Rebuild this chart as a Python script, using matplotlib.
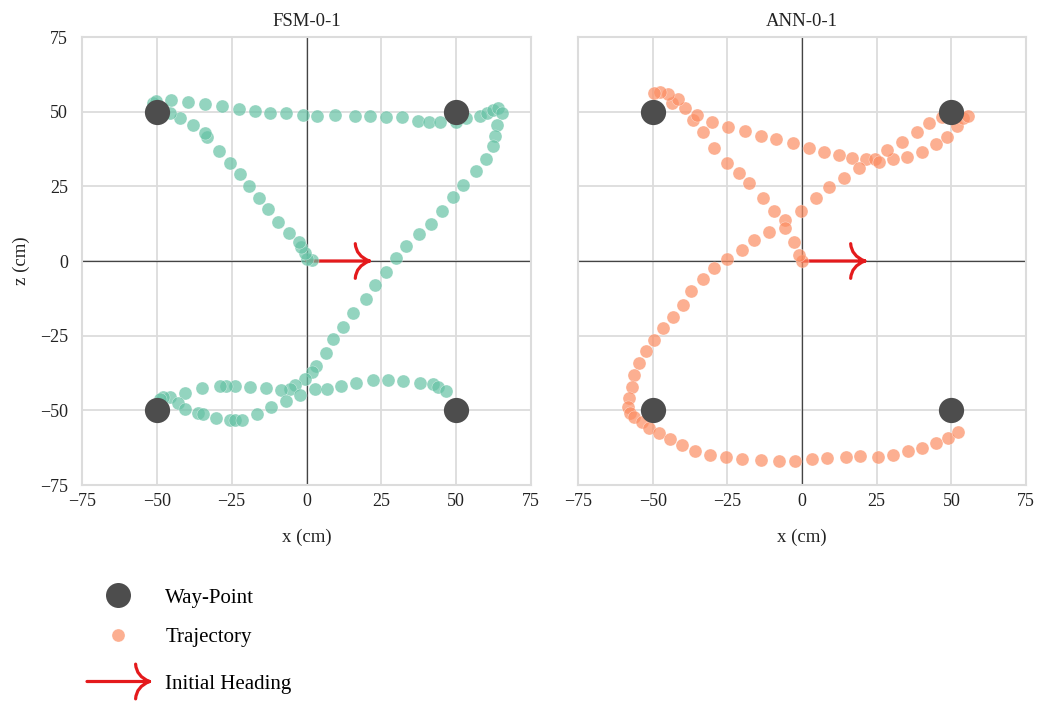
import matplotlib
matplotlib.use("Agg")
import matplotlib.pyplot as plt
from matplotlib.path import Path
from matplotlib.patches import PathPatch
from matplotlib.legend_handler import HandlerBase
from matplotlib.lines import Line2D

plt.rcParams['font.family'] = ['Liberation Serif', 'DejaVu Serif']
plt.rcParams['axes.unicode_minus'] = True

# way-points (cm)
wp_x = [-50, 50, -50, 50]
wp_z = [50, 50, -50, -50]

# FSM-0-1 trajectory (cm)
fsm_x = [1.7, 0.3, -0.6, -1.7, -2.5, -5.8, -9.5, -12.8, -15.9, -19.3, -22.3, -25.4,
         -29.2, -33.2, -34.0, -37.9, -42.4, -45.7, -51.3, -50.4, -45.2, -39.6, -34.0,
         -28.2, -22.6, -17.1, -12.3, -6.9, -1.1, 3.6, 9.5, 16.3, 21.2, 26.5, 31.8,
         37.3, 41.0, 44.6, 49.8, 53.2, 58.0, 60.2, 62.4, 64.1, 65.2, 63.5, 63.0, 62.4,
         60.0, 56.5, 52.4, 48.8, 45.4, 41.6, 37.6, 33.2, 29.9, 26.5, 22.9, 19.8, 15.6,
         12.3, 8.9, 6.4, 3.3, 1.9, -0.6, -3.9, -5.6, -8.4, -13.4, -19.0, -24.0, -26.8,
         -29.0, -34.8, -40.7, -45.7, -47.9, -49.1, -42.9, -40.7, -36.2, -34.6, -30.3,
         -25.6, -24.0, -21.5, -16.7, -12.0, -6.7, -2.2, 2.8, 6.7, 11.4, 16.7, 22.3,
         27.3, 32.3, 37.9, 42.4, 44.0, 46.5]
fsm_z = [0.3, 0.7, 2.6, 4.8, 6.5, 9.5, 13.2, 17.3, 21.2, 25.1, 29.0, 32.7,
         36.8, 41.6, 43.0, 45.5, 47.9, 49.4, 53.0, 53.6, 53.8, 53.1, 52.7,
         51.8, 50.9, 50.3, 49.7, 49.5, 48.9, 48.7, 48.9, 48.7, 48.5, 48.1, 48.1,
         46.8, 46.7, 46.6, 46.6, 48.0, 48.5, 49.6, 50.7, 51.1, 49.7, 45.5, 41.8, 38.6,
         34.1, 30.2, 25.6, 21.3, 16.8, 12.4, 8.9, 5.0, 0.9, -3.8, -8.0, -12.7, -17.5,
         -22.0, -26.2, -30.9, -35.1, -37.0, -39.6, -41.5, -42.9, -43.1, -42.4, -42.3, -41.8, -41.8,
         -42.0, -42.6, -44.3, -45.4, -45.7, -46.2, -47.4, -49.5, -50.9, -51.2, -52.4,
         -53.4, -53.4, -53.2, -51.3, -48.9, -47.0, -45.0, -42.9, -42.9, -41.8, -40.9, -39.8,
         -39.8, -40.1, -40.7, -41.1, -42.3, -43.5]

# ANN-0-1 trajectory (cm)
ann_x = [0.0, -1.0, -2.6, -5.7, -9.4, -12.9, -17.7, -21.1, -25.0, -29.5, -33.3,
         -36.4, -35.3, -39.2, -43.6, -41.4, -44.8, -47.5, -49.4,
         -30.2, -24.9, -19.1, -13.8, -8.7, -2.9, 2.3, 7.5, 12.4, 16.9, 21.3, 24.4,
         25.8, 30.6, 35.3, 40.1, 44.8, 48.4, 51.8, 54.0, 55.5,
         46.8, 42.5, 38.4, 33.4, 28.3, 19.2, 14.2, 9.0, 4.6, -0.3, -5.7, -11.0, -16.0,
         -20.2, -25.2, -29.5, -33.0, -37.3, -40.0, -43.3, -46.4, -49.4, -52.3, -54.5,
         -56.1, -57.0, -57.8, -58.1, -57.6, -56.1, -53.7, -51.2, -47.9, -44.2, -40.3,
         -35.8, -30.8, -25.4, -20.2, -13.8, -7.7, -2.3, 3.5, 8.5, 14.6, 19.4, 25.6,
         30.6, 35.4, 40.3, 44.8, 48.8, 52.1]
ann_z = [0.0, 2.0, 6.3, 13.7, 16.7, 21.2, 26.0, 29.4, 32.9, 37.7, 43.1,
         47.2, 48.9, 51.1, 52.8, 54.1, 55.9, 56.7, 56.1,
         46.4, 45.0, 43.6, 42.0, 40.8, 39.4, 37.7, 36.6, 35.5, 34.6, 34.3, 34.0,
         33.3, 34.0, 34.9, 36.6, 39.1, 41.6, 45.2, 47.8, 48.5,
         48.3, 46.3, 43.3, 39.7, 37.2, 31.2, 27.9, 24.9, 21.2, 16.7, 10.9, 9.8, 7.0,
         3.7, 0.7, -2.5, -6.0, -10.0, -14.7, -18.6, -22.5, -26.5, -30.1, -34.3,
         -38.2, -42.3, -46.0, -48.8, -50.8, -52.1, -53.8, -56.0, -57.7, -59.7, -61.6,
         -63.5, -65.0, -65.7, -66.3, -66.6, -67.0, -66.9, -66.4, -66.1, -65.5, -65.3, -65.5,
         -64.9, -63.6, -62.7, -60.8, -59.2, -57.1]

# initial heading arrow (cm)
head_start = (0, 0)
head_end = (21, 0)

ticks = [-75, -50, -25, 0, 25, 50, 75]

green = '#66c2a5'
orange = '#fc8d62'
wp_color = '#4d4d4d'
red = '#e41a1c'
grid_c = '#dcdcdc'
txt_c = '#222222'


def heading_path(x0, y0, x1, hl, hw):
    # shaft plus two curved arms ending near vertical
    verts = [(x0, y0), (x1, y0),
             (x1, y0), (x1 - hl * 0.95, y0 + hw * 0.3), (x1 - hl, y0 + hw),
             (x1, y0), (x1 - hl * 0.95, y0 - hw * 0.3), (x1 - hl, y0 - hw)]
    codes = [Path.MOVETO, Path.LINETO,
             Path.MOVETO, Path.CURVE3, Path.CURVE3,
             Path.MOVETO, Path.CURVE3, Path.CURVE3]
    return Path(verts, codes)


fig = plt.figure(figsize=(10.39, 7.01), dpi=100)
ax1 = fig.add_axes([82 / 1039, 1 - 485 / 701, 449 / 1039, 448 / 701])
ax2 = fig.add_axes([578 / 1039, 1 - 485 / 701, 448 / 1039, 448 / 701])


def draw_panel(ax, xs, zs, color, title):
    ax.set_xlim(-75, 75)
    ax.set_ylim(-75, 75)
    ax.set_xticks(ticks)
    ax.set_yticks(ticks)
    ax.grid(True, color=grid_c, linewidth=1.3, zorder=0)
    ax.set_axisbelow(True)
    for s in ax.spines.values():
        s.set_color(grid_c)
        s.set_linewidth(1.5)
    ax.axhline(0, color='#444444', linewidth=0.9, zorder=1)
    ax.axvline(0, color='#444444', linewidth=0.9, zorder=1)
    ax.tick_params(length=0, labelsize=13, colors=txt_c)
    ax.tick_params(axis='x', pad=6)
    ax.tick_params(axis='y', pad=10)
    arrow = PathPatch(heading_path(head_start[0], head_start[1], head_end[0], 4.7, 5.8),
                      fill=False, edgecolor=red, linewidth=2.3, capstyle='round',
                      joinstyle='round', zorder=1.5)
    ax.add_patch(arrow)
    ax.scatter(xs, zs, s=88, color=color, alpha=0.7, edgecolors='white',
               linewidths=0.3, zorder=2)
    ax.scatter(wp_x, wp_z, s=330, color=wp_color, zorder=3, linewidths=0)
    ax.set_title(title, fontsize=13.5, pad=8, color=txt_c)
    ax.set_xlabel('x (cm)', fontsize=13.5, labelpad=13, color=txt_c)


draw_panel(ax1, fsm_x, fsm_z, green, 'FSM-0-1')
draw_panel(ax2, ann_x, ann_z, orange, 'ANN-0-1')
ax1.set_ylabel('z (cm)', fontsize=13.5, labelpad=7, color=txt_c)
ax2.tick_params(labelleft=False)


class HandlerHeading(HandlerBase):
    def create_artists(self, legend, orig_handle, xdescent, ydescent, width,
                       height, fontsize, trans):
        y = height / 2 - ydescent
        p = PathPatch(heading_path(-xdescent, y, width - xdescent, 10, 12.5),
                      fill=False, edgecolor=red, linewidth=2.3,
                      capstyle='round', transform=trans)
        return [p]


h_wp = Line2D([], [], linestyle='none', marker='o', markersize=18,
              markerfacecolor=wp_color, markeredgewidth=0)
h_tr = Line2D([], [], linestyle='none', marker='o', markersize=9.4,
              markerfacecolor=orange, markeredgecolor='white',
              markeredgewidth=0.3, alpha=0.7)
h_ar = PathPatch(heading_path(0, 0, 1, 0.1, 0.1))

leg_kw = dict(frameon=False, fontsize=15, handlelength=3.0, handletextpad=0.75,
              borderpad=0, borderaxespad=0, loc='center left')
fig.legend([h_wp, h_tr], ['Way-Point', 'Trajectory'], labelspacing=0.95,
           bbox_to_anchor=(87 / 1039, 1 - 617.5 / 701), **leg_kw)
fig.legend([h_ar], ['Initial Heading'], handler_map={PathPatch: HandlerHeading()},
           bbox_to_anchor=(87 / 1039, 1 - 684 / 701), **leg_kw)

fig.savefig('out.png', dpi=100)
